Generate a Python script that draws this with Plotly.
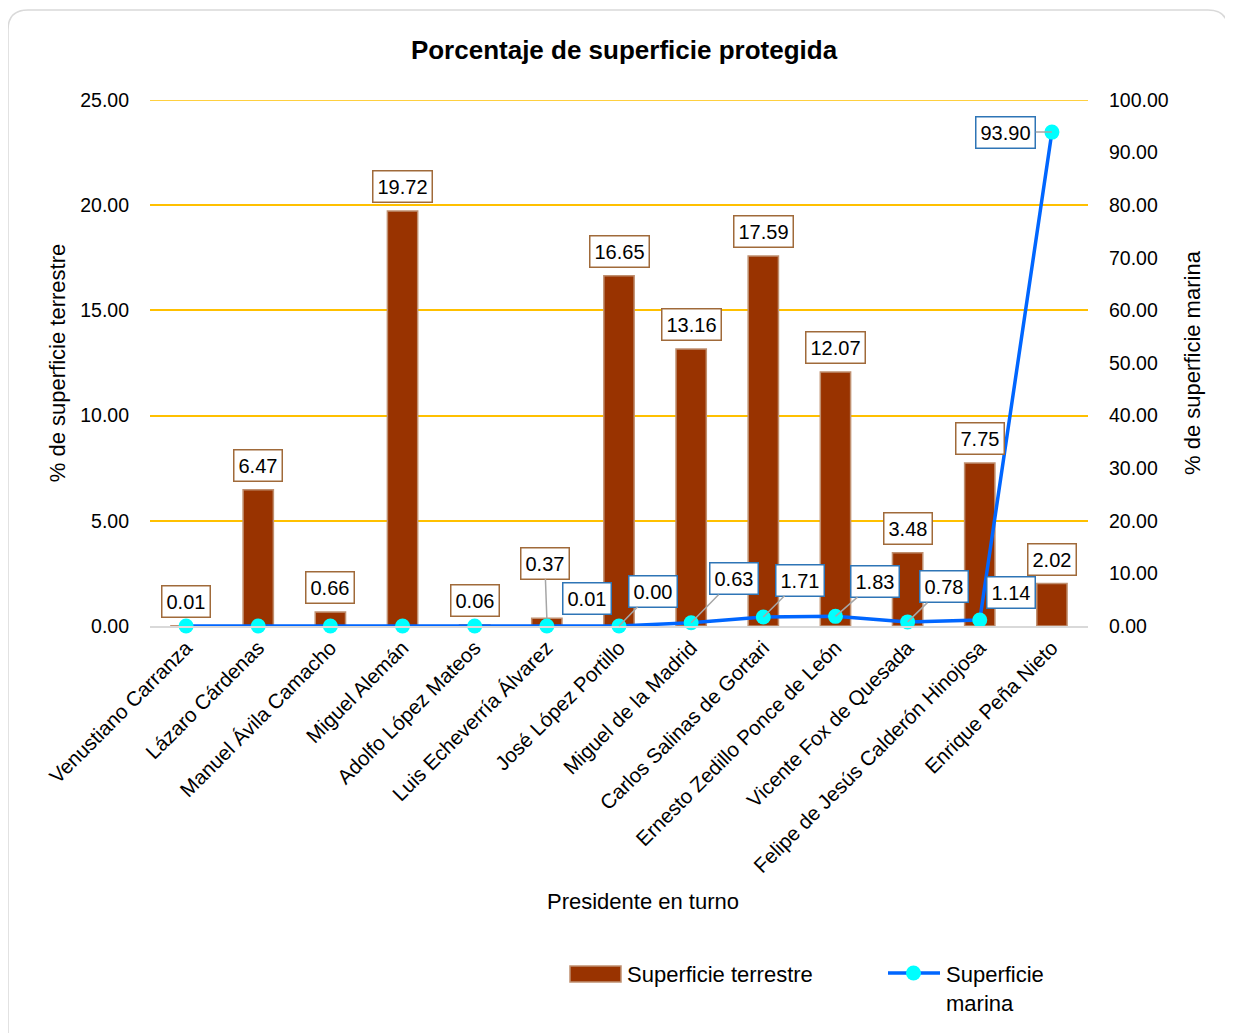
import plotly.graph_objects as go

presidentes = ["Venustiano Carranza", "Lázaro Cárdenas", "Manuel Ávila Camacho", "Miguel Alemán",
               "Adolfo López Mateos", "Luis Echeverría Álvarez", "José López Portillo",
               "Miguel de la Madrid", "Carlos Salinas de Gortari", "Ernesto Zedillo Ponce de León",
               "Vicente Fox de Quesada", "Felipe de Jesús Calderón Hinojosa", "Enrique Peña Nieto"]
terrestre = [0.01, 6.47, 0.66, 19.72, 0.06, 0.37, 16.65, 13.16, 17.59, 12.07, 3.48, 7.75, 2.02]
marina = [0.0, 0.0, 0.0, 0.0, 0.0, 0.01, 0.00, 0.63, 1.71, 1.83, 0.78, 1.14, 93.90]
y1_ticks = [0, 5, 10, 15, 20, 25]
y2_ticks = [0, 10, 20, 30, 40, 50, 60, 70, 80, 90, 100]

FONT = "Arial, Liberation Sans, sans-serif"
OFF = 8  # page body margin
W, H = 1225, 1025
ML = 150 - OFF
MT = 100 - OFF
MR = W - (1088 - OFF)
MB = H - (626 - OFF)
PW, PH = W - ML - MR, H - MT - MB


def px(x):  # page x -> paper
    return (x - OFF - ML) / PW


def py(y):  # page y -> paper
    return (626 - y) / PH


fig = go.Figure()
fig.add_trace(go.Bar(x=presidentes, y=terrestre, name="Superficie terrestre",
                     marker=dict(color="#993300", line=dict(color="#c09070", width=1.5)),
                     width=0.42, yaxis="y", showlegend=False))
fig.add_trace(go.Scatter(x=presidentes, y=marina, name="Superficie marina", yaxis="y2",
                         mode="lines+markers", cliponaxis=False, showlegend=False,
                         line=dict(color="#0066FF", width=3.5),
                         marker=dict(color="#00FFFF", size=15)))

LBL = dict(family=FONT, size=20, color="black")
ann = []
t_off = {5: (-2, -55)}
for i, (p, v) in enumerate(zip(presidentes, terrestre)):
    base = dict(x=p, y=v, xref="x", yref="y", text=f"{v:.2f}", font=LBL,
                bgcolor="white", bordercolor="#a06a3a", borderwidth=1.5, borderpad=4)
    if i in t_off:
        ax, ay = t_off[i]
        base.update(showarrow=True, arrowhead=0, arrowcolor="#a6a6a6", arrowwidth=1.5,
                    ax=ax, ay=ay)
    else:
        base.update(showarrow=False, yanchor="bottom", yshift=8)
    ann.append(base)

m_off = {5: (False, 40, -27), 6: (True, 34, -35), 7: (True, 43, -44), 8: (True, 37, -37),
         9: (True, 40, -35), 10: (True, 36, -35), 11: (False, 31, -28), 12: (True, -46, 0)}
for i, (arrow, dx, dy) in m_off.items():
    base = dict(x=presidentes[i], y=marina[i], xref="x", yref="y2", text=f"{marina[i]:.2f}",
                font=LBL, bgcolor="white", bordercolor="#2E75B6", borderwidth=1.5, borderpad=4)
    if arrow:
        base.update(showarrow=True, arrowhead=0, arrowcolor="#a6a6a6", arrowwidth=1.5,
                    ax=dx, ay=dy)
    else:
        base.update(showarrow=False, xshift=dx, yshift=-dy)
    ann.append(base)

ann.append(dict(text="Presidente en turno", x=px(643), y=py(901), xref="paper", yref="paper",
                xanchor="center", yanchor="middle", showarrow=False,
                font=dict(family=FONT, size=22, color="black")))

# custom legend
LEG = dict(family=FONT, size=22, color="black")
ann.append(dict(text="Superficie terrestre", x=px(625), y=py(974), xref="paper", yref="paper",
                xanchor="left", yanchor="middle", showarrow=False, font=LEG))
ann.append(dict(text="Superficie<br>marina", x=px(944), y=py(989), xref="paper", yref="paper",
                xanchor="left", yanchor="middle", align="left", showarrow=False, font=LEG))

r = 20
path = (f"M {px(8)},{py(1045)} L {px(8)},{py(10 + r)} Q {px(8)},{py(10)} {px(8 + r)},{py(10)} "
        f"L {px(1228 - r)},{py(10)} Q {px(1228)},{py(10)} {px(1228)},{py(10 + r)} L {px(1228)},{py(1045)}")

shapes = [
    dict(type="path", path=path, xref="paper", yref="paper",
         line=dict(color="#d9d9d9", width=1.5), layer="below"),
    # top gridline at 25 (plotly omits gridline on range edge)
    dict(type="line", xref="paper", yref="y", x0=0, x1=1, y0=y1_ticks[-1], y1=y1_ticks[-1],
         line=dict(color="#FFC000", width=1.5), layer="below"),
    dict(type="rect", xref="paper", yref="paper", x0=px(570), x1=px(621), y0=py(982), y1=py(966),
         fillcolor="#993300", line=dict(color="#c09070", width=1.5)),
    dict(type="line", xref="paper", yref="paper", x0=px(888), x1=px(940), y0=py(973), y1=py(973),
         line=dict(color="#0066FF", width=3.5)),
    dict(type="circle", xref="paper", yref="paper", x0=px(906), x1=px(921), y0=py(980.5), y1=py(965.5),
         fillcolor="#00FFFF", line=dict(color="#00FFFF", width=0)),
]

fig.update_layout(
    width=W, height=H,
    margin=dict(l=ML, r=MR, t=MT, b=MB, autoexpand=False),
    paper_bgcolor="white", plot_bgcolor="white",
    font=dict(family=FONT, size=19, color="black"),
    title=dict(text="<b>Porcentaje de superficie protegida</b>", x=px(624), xanchor="center",
               xref="paper", y=1 - (50 - OFF) / H, yanchor="middle",
               font=dict(family=FONT, size=26, color="black")),
    xaxis=dict(range=[-0.5, 12.5], tickangle=-45, showline=True, linecolor="#d9d9d9",
               linewidth=1.5, ticks="", tickfont=dict(family=FONT, size=20.5)),
    yaxis=dict(range=[0, 25], tickvals=y1_ticks, tickformat=".2f", showgrid=True,
               gridcolor="#FFC000", gridwidth=1.5, zeroline=False, ticks="", ticklabelstandoff=20,
               tickfont=dict(family=FONT, size=19.5),
               title=dict(text="% de superficie terrestre", font=dict(family=FONT, size=22), standoff=8)),
    yaxis2=dict(range=[0, 100], tickvals=y2_ticks, tickformat=".2f", overlaying="y", side="right",
                showgrid=False, zeroline=False, ticks="", ticklabelstandoff=20,
                tickfont=dict(family=FONT, size=19.5),
                title=dict(text="% de superficie marina", font=dict(family=FONT, size=22), standoff=16)),
    showlegend=False,
    annotations=ann,
    shapes=shapes,
)

fig.write_html("out.html")
